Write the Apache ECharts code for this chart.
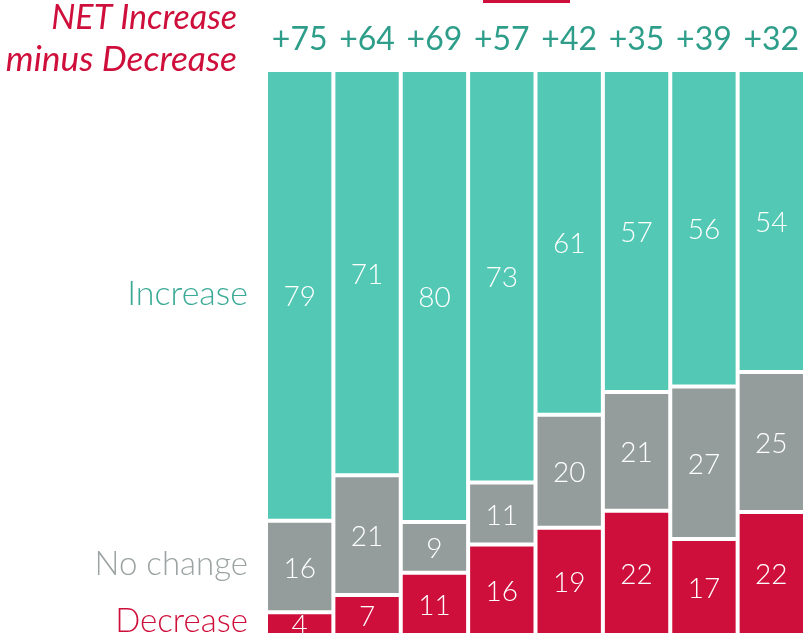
<!DOCTYPE html>
<html>
<head>
<meta charset="utf-8">
<script src="https://cdn.jsdelivr.net/npm/echarts@6/dist/echarts.min.js"></script>
<style>html,body{margin:0;padding:0;background:#fff}#c{width:805px;height:638px}</style>
</head>
<body>
<div id="c"></div>
<script>
var categories = ['1','2','3','4','5','6','7','8'];
var increase = [79, 71, 80, 73, 61, 57, 56, 54];
var noChange = [16, 21, 9, 11, 20, 21, 27, 25];
var decrease = [4, 7, 11, 16, 19, 22, 17, 22];

var totals = categories.map(function(_, i){ return increase[i] + noChange[i] + decrease[i]; });
var netLabels = categories.map(function(_, i){ return '+' + (increase[i] - decrease[i]); });
function norm(arr){ return arr.map(function(v, i){ return {value: v / totals[i] * 100, raw: v}; }); }

var TEAL = '#53C9B5', GRAY = '#949C9C', RED = '#CF0F3B';
var FONT = 'Lato, "Open Sans", sans-serif';

var chart = echarts.init(document.getElementById('c'), null, {renderer: 'canvas'});
function seg(name, arr, color){
  return {
    name: name, type: 'bar', stack: 'all', barCategoryGap: 0,
    data: norm(arr),
    itemStyle: {color: color, borderColor: '#fff', borderWidth: 2},
    label: {show: true, position: 'inside', offset: [0, 2], color: '#fff', fontSize: 28, fontWeight: 300, fontFamily: FONT,
      formatter: function(p){ return p.data.raw; }},
    emphasis: {disabled: true}
  };
}
chart.setOption({
  animation: false,
  grid: {left: 266, right: -4, top: 70, bottom: 3},
  xAxis: {type: 'category', data: netLabels, position: 'top',
    axisLine: {show: false}, axisTick: {show: false},
    axisLabel: {interval: 0, hideOverlap: false, color: '#2E9E8A', fontSize: 32, fontWeight: 400, fontFamily: FONT, margin: 14}},
  yAxis: {type: 'value', min: 0, max: 100, show: false},
  series: [seg('Decrease', decrease, RED), seg('No change', noChange, GRAY), seg('Increase', increase, TEAL)],
  graphic: [
    {type: 'text', x: 237, y: 1, style: {text: 'NET Increase', fill: '#CF0F3B', font: 'italic 400 34px ' + FONT, textAlign: 'right'}},
    {type: 'text', x: 237, y: 43, scaleX: 1.04, style: {text: 'minus Decrease', fill: '#CF0F3B', font: 'italic 400 34px ' + FONT, textAlign: 'right'}},
    {type: 'text', x: 248, y: 277, style: {text: 'Increase', fill: '#3AAA96', font: '300 34px ' + FONT, textAlign: 'right'}},
    {type: 'text', x: 248, y: 548, style: {text: 'No change', fill: '#9BA3A3', font: '300 33px ' + FONT, textAlign: 'right'}},
    {type: 'text', x: 248, y: 605, style: {text: 'Decrease', fill: '#CF0F3B', font: '300 33px ' + FONT, textAlign: 'right'}},
    {type: 'rect', shape: {x: 483, y: 0, width: 87, height: 3}, style: {fill: '#CF0F3B'}}
  ]
});
</script>
</body>
</html>
